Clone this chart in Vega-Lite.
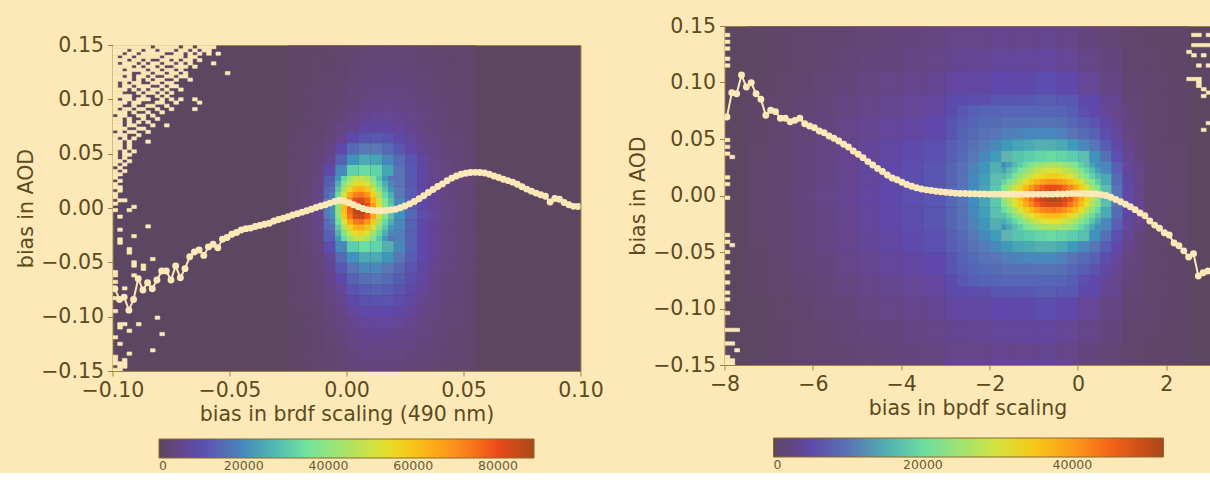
{
  "$schema": "https://vega.github.io/schema/vega-lite/v6.json",
  "background": "#fde9b7",
  "padding": {"left": 15.5, "top": 15, "right": 0, "bottom": 0},
  "spacing": 23,
  "datasets": {
    "left_cols": [{"col":1,"brdf_bias":-0.025},{"col":2,"brdf_bias":-0.02},{"col":3,"brdf_bias":-0.015},{"col":4,"brdf_bias":-0.01},{"col":5,"brdf_bias":-0.005},{"col":6,"brdf_bias":0.0},{"col":7,"brdf_bias":0.005},{"col":8,"brdf_bias":0.01},{"col":9,"brdf_bias":0.015},{"col":10,"brdf_bias":0.02},{"col":11,"brdf_bias":0.025},{"col":12,"brdf_bias":0.03},{"col":13,"brdf_bias":0.035},{"col":14,"brdf_bias":0.04},{"col":15,"brdf_bias":0.045},{"col":16,"brdf_bias":0.05}],
    "left_grid": [
      {"aod_bias":0.14,"counts_k":[0.9,1.0,1.1,1.2,1.4,1.9,2.4,2.7,2.7,2.7,2.4,2.1,1.8,1.5,1.3,1.2]},
      {"aod_bias":0.13,"counts_k":[0.9,1.0,1.2,1.3,1.6,2.2,2.7,2.9,3.0,2.9,2.7,2.3,1.9,1.7,1.4,1.2]},
      {"aod_bias":0.12,"counts_k":[0.9,1.1,1.2,1.5,1.8,2.5,2.9,3.3,3.4,3.3,3.0,2.6,2.1,1.8,1.5,1.3]},
      {"aod_bias":0.11,"counts_k":[0.9,1.1,1.3,1.7,2.0,2.8,3.4,3.7,3.9,3.8,3.4,2.9,2.4,2.0,1.7,1.4]},
      {"aod_bias":0.10,"counts_k":[1.0,1.2,1.5,1.9,2.3,3.2,3.9,4.3,4.5,4.4,3.9,3.3,2.7,2.2,1.9,1.5]},
      {"aod_bias":0.09,"counts_k":[1.0,1.2,1.7,2.1,2.7,3.7,4.6,5.1,5.3,5.1,4.4,3.7,3.0,2.5,2.0,1.7]},
      {"aod_bias":0.08,"counts_k":[1.1,1.4,1.9,2.4,3.1,4.4,5.8,6.4,6.6,6.2,5.3,4.2,3.3,2.7,2.2,1.8]},
      {"aod_bias":0.07,"counts_k":[1.2,1.5,2.0,2.7,4.0,5.8,7.5,8.0,8.0,7.1,5.8,4.4,3.5,2.8,2.3,1.9]},
      {"aod_bias":0.06,"counts_k":[1.2,1.7,2.3,3.3,5.5,8.9,11.1,11.5,10.6,8.9,6.9,5.3,4.1,3.2,2.6,2.0]},
      {"aod_bias":0.05,"counts_k":[1.3,1.8,2.7,4.4,8.9,15.0,17.7,17.7,15.0,11.5,8.4,6.2,4.6,3.5,2.8,2.2]},
      {"aod_bias":0.04,"counts_k":[1.4,1.9,3.1,5.8,13.3,21.2,24.8,23.9,19.5,15.0,10.6,7.5,5.1,3.8,3.0,2.3]},
      {"aod_bias":0.03,"counts_k":[1.5,2.1,3.5,8.9,19.5,31.9,33.6,31.9,23.9,16.8,11.5,8.0,5.3,4.0,3.1,2.4]},
      {"aod_bias":0.02,"counts_k":[1.6,2.3,4.0,12.4,31.9,48.7,48.7,39.8,26.6,16.8,11.5,8.0,5.5,4.2,3.2,2.5]},
      {"aod_bias":0.01,"counts_k":[1.8,2.5,4.4,14.2,42.5,70.8,70.8,48.7,31.0,17.7,12.4,8.4,5.8,4.4,3.4,2.7]},
      {"aod_bias":0.00,"counts_k":[1.8,2.7,5.3,17.7,51.3,81.4,81.4,55.8,33.6,19.5,13.3,8.9,6.2,4.4,3.5,2.7]},
      {"aod_bias":-0.01,"counts_k":[1.8,2.7,5.3,17.7,51.3,87.0,86.0,55.8,35.4,21.2,14.2,9.7,6.6,4.9,3.7,2.8]},
      {"aod_bias":-0.02,"counts_k":[1.8,2.7,4.9,15.0,39.8,58.4,58.4,44.3,31.9,19.5,13.3,8.9,6.2,4.6,3.5,2.7]},
      {"aod_bias":-0.03,"counts_k":[1.8,2.5,4.4,13.3,30.1,44.3,44.3,38.1,28.3,18.6,13.3,8.9,6.2,4.4,3.5,2.7]},
      {"aod_bias":-0.04,"counts_k":[1.8,2.4,4.0,9.7,19.5,31.0,33.6,31.9,25.7,19.5,13.3,8.9,6.2,4.4,3.5,2.7]},
      {"aod_bias":-0.05,"counts_k":[1.6,2.2,3.5,7.1,15.0,21.2,24.8,24.8,22.1,17.7,12.4,8.9,6.0,4.4,3.5,2.7]},
      {"aod_bias":-0.06,"counts_k":[1.5,2.0,3.1,6.2,11.5,16.8,19.5,19.5,17.7,14.2,10.6,8.0,5.6,4.2,3.3,2.5]},
      {"aod_bias":-0.07,"counts_k":[1.4,1.9,2.8,5.3,8.9,13.3,15.9,16.8,15.0,12.4,9.7,7.3,5.1,3.9,3.1,2.4]},
      {"aod_bias":-0.08,"counts_k":[1.3,1.8,2.7,4.4,6.6,10.6,12.4,13.3,12.4,10.6,8.9,6.6,4.9,3.7,2.9,2.3]},
      {"aod_bias":-0.09,"counts_k":[1.2,1.7,2.4,4.0,5.8,8.9,10.2,10.6,10.6,9.3,7.8,6.0,4.4,3.5,2.8,2.2]},
      {"aod_bias":-0.10,"counts_k":[1.2,1.6,2.2,3.5,4.9,7.1,8.4,8.9,8.9,8.0,6.6,5.3,4.0,3.2,2.7,2.1]},
      {"aod_bias":-0.11,"counts_k":[1.1,1.4,1.9,3.1,4.0,5.8,6.9,7.3,7.3,6.6,5.6,4.6,3.5,2.9,2.4,1.9]},
      {"aod_bias":-0.12,"counts_k":[1.1,1.3,1.8,2.7,3.5,4.9,5.8,6.2,6.2,5.7,4.9,4.1,3.3,2.7,2.2,1.8]},
      {"aod_bias":-0.13,"counts_k":[1.0,1.2,1.6,2.4,3.1,4.2,4.9,5.1,5.1,4.8,4.2,3.5,2.9,2.4,2.0,1.7]},
      {"aod_bias":-0.14,"counts_k":[1.0,1.2,1.5,2.1,2.7,3.5,4.2,4.4,4.4,4.1,3.6,3.1,2.7,2.2,1.9,1.6]},
      {"aod_bias":-0.15,"counts_k":[1.0,1.2,1.4,1.9,2.4,3.1,3.6,3.8,3.8,3.5,3.2,2.7,2.4,2.0,1.7,1.5]}
    ],
    "left_cols_core": [{"col":1,"brdf_bias":-0.0075},{"col":2,"brdf_bias":-0.005},{"col":3,"brdf_bias":-0.0025},{"col":4,"brdf_bias":0.0},{"col":5,"brdf_bias":0.0025},{"col":6,"brdf_bias":0.005},{"col":7,"brdf_bias":0.0075},{"col":8,"brdf_bias":0.01},{"col":9,"brdf_bias":0.0125},{"col":10,"brdf_bias":0.015},{"col":11,"brdf_bias":0.0175}],
    "left_grid_core": [
      {"aod_bias":0.025,"counts_k":[11.8,22.1,33.3,41.7,47.1,48.1,44.4,37.1,28.8,21.7,16.4]},
      {"aod_bias":0.02,"counts_k":[13.7,25.6,38.5,48.2,54.5,55.7,51.4,42.9,33.3,25.1,19.0]},
      {"aod_bias":0.015,"counts_k":[15.7,29.5,44.4,55.6,62.9,64.2,59.3,49.5,38.4,28.9,21.9]},
      {"aod_bias":0.01,"counts_k":[18.1,33.9,51.0,63.9,72.3,73.8,68.1,56.9,44.2,33.3,25.1]},
      {"aod_bias":0.005,"counts_k":[20.3,38.0,57.1,71.6,80.9,82.6,76.3,63.7,49.4,37.2,28.1]},
      {"aod_bias":0.0,"counts_k":[21.4,40.2,60.5,75.8,85.7,87.5,80.7,67.4,52.3,39.4,29.8]},
      {"aod_bias":-0.005,"counts_k":[21.5,40.4,60.7,76.1,86.0,88.0,81.1,67.7,52.5,39.6,29.9]},
      {"aod_bias":-0.01,"counts_k":[20.7,38.9,58.5,73.2,82.8,84.6,78.0,65.2,50.6,38.1,28.8]},
      {"aod_bias":-0.015,"counts_k":[18.4,34.4,51.8,64.9,73.4,74.9,69.1,57.7,44.8,33.7,25.5]},
      {"aod_bias":-0.02,"counts_k":[16.0,30.0,45.1,56.5,63.9,65.2,60.2,50.2,39.0,29.4,22.2]},
      {"aod_bias":-0.025,"counts_k":[13.8,25.9,39.0,48.8,55.2,56.4,52.0,43.5,33.7,25.4,19.2]},
      {"aod_bias":-0.03,"counts_k":[12.0,22.5,33.8,42.3,47.9,48.9,45.1,37.7,29.2,22.0,16.7]}
    ],
    "left_empty": [
      {"aod_bias":0.147,"brdf_list":[-0.1,-0.098,-0.096,-0.094,-0.092,-0.09,-0.088,-0.086,-0.082,-0.08,-0.078,-0.076,-0.074,-0.07,-0.068,-0.064,-0.062,-0.06,-0.058]},
      {"aod_bias":0.144,"brdf_list":[-0.1,-0.098,-0.096,-0.092,-0.09,-0.086,-0.084,-0.08,-0.078,-0.076,-0.072,-0.07,-0.066,-0.062,-0.06]},
      {"aod_bias":0.141,"brdf_list":[-0.1,-0.098,-0.094,-0.092,-0.088,-0.086,-0.084,-0.082,-0.08,-0.074,-0.072,-0.068,-0.064,-0.06,-0.056]},
      {"aod_bias":0.138,"brdf_list":[-0.1,-0.096,-0.094,-0.09,-0.088,-0.086,-0.084,-0.082,-0.078,-0.076,-0.074,-0.072,-0.068,-0.066]},
      {"aod_bias":0.135,"brdf_list":[-0.1,-0.098,-0.096,-0.092,-0.09,-0.086,-0.08,-0.078,-0.074,-0.07,-0.068,-0.064]},
      {"aod_bias":0.132,"brdf_list":[-0.1,-0.096,-0.094,-0.092,-0.088,-0.084,-0.082,-0.078,-0.076,-0.072,-0.068,-0.058]},
      {"aod_bias":0.129,"brdf_list":[-0.1,-0.098,-0.096,-0.094,-0.09,-0.086,-0.084,-0.08,-0.074,-0.072,-0.07,-0.066]},
      {"aod_bias":0.126,"brdf_list":[-0.1,-0.098,-0.094,-0.092,-0.09,-0.088,-0.084,-0.082,-0.078,-0.076,-0.072]},
      {"aod_bias":0.123,"brdf_list":[-0.1,-0.098,-0.096,-0.094,-0.088,-0.086,-0.082,-0.08,-0.076,-0.074,-0.07,-0.052]},
      {"aod_bias":0.12,"brdf_list":[-0.1,-0.098,-0.094,-0.09,-0.088,-0.084,-0.078,-0.076,-0.072,-0.07]},
      {"aod_bias":0.117,"brdf_list":[-0.1,-0.098,-0.096,-0.094,-0.09,-0.086,-0.082,-0.08,-0.074,-0.068]},
      {"aod_bias":0.114,"brdf_list":[-0.1,-0.096,-0.092,-0.09,-0.084,-0.082,-0.078,-0.076]},
      {"aod_bias":0.111,"brdf_list":[-0.1,-0.096,-0.094,-0.09,-0.088,-0.086,-0.08,-0.076,-0.074]},
      {"aod_bias":0.108,"brdf_list":[-0.1,-0.098,-0.096,-0.092,-0.088,-0.084,-0.082,-0.078,-0.072]},
      {"aod_bias":0.105,"brdf_list":[-0.1,-0.098,-0.09,-0.086,-0.084,-0.08,-0.076]},
      {"aod_bias":0.102,"brdf_list":[-0.1,-0.098,-0.096,-0.094,-0.088,-0.082,-0.078]},
      {"aod_bias":0.099,"brdf_list":[-0.1,-0.096,-0.094,-0.09,-0.088,-0.086,-0.08,-0.076,-0.072,-0.066]},
      {"aod_bias":0.096,"brdf_list":[-0.1,-0.098,-0.096,-0.092,-0.09,-0.082,-0.08,-0.074,-0.064]},
      {"aod_bias":0.093,"brdf_list":[-0.1,-0.098,-0.092,-0.086,-0.084,-0.078]},
      {"aod_bias":0.09,"brdf_list":[-0.1,-0.096,-0.094,-0.09,-0.088,-0.082,-0.076,-0.066]},
      {"aod_bias":0.087,"brdf_list":[-0.1,-0.098,-0.096,-0.092,-0.086,-0.08]},
      {"aod_bias":0.084,"brdf_list":[-0.098,-0.096,-0.09,-0.088,-0.084]},
      {"aod_bias":0.081,"brdf_list":[-0.1,-0.098,-0.094,-0.088,-0.082]},
      {"aod_bias":0.078,"brdf_list":[-0.1,-0.098,-0.094,-0.09,-0.086]},
      {"aod_bias":0.075,"brdf_list":[-0.1,-0.098,-0.094,-0.092,-0.084,-0.078]},
      {"aod_bias":0.072,"brdf_list":[-0.1,-0.098,-0.096,-0.09,-0.088]},
      {"aod_bias":0.069,"brdf_list":[-0.098,-0.094,-0.092,-0.086]},
      {"aod_bias":0.066,"brdf_list":[-0.1,-0.098,-0.096,-0.09]},
      {"aod_bias":0.063,"brdf_list":[-0.1,-0.096,-0.092]},
      {"aod_bias":0.06,"brdf_list":[-0.1,-0.098,-0.094,-0.086]},
      {"aod_bias":0.057,"brdf_list":[-0.1,-0.098,-0.094]},
      {"aod_bias":0.054,"brdf_list":[-0.1,-0.098,-0.094]},
      {"aod_bias":0.051,"brdf_list":[-0.1,-0.096,-0.092]},
      {"aod_bias":0.048,"brdf_list":[-0.1,-0.096,-0.094]},
      {"aod_bias":0.045,"brdf_list":[-0.1,-0.096]},
      {"aod_bias":0.042,"brdf_list":[-0.1,-0.098,-0.094]},
      {"aod_bias":0.039,"brdf_list":[-0.1,-0.096]},
      {"aod_bias":0.036,"brdf_list":[-0.098]},
      {"aod_bias":0.033,"brdf_list":[-0.1,-0.096]},
      {"aod_bias":0.03,"brdf_list":[-0.1,-0.098]},
      {"aod_bias":0.027,"brdf_list":[-0.1]},
      {"aod_bias":0.024,"brdf_list":[-0.098]},
      {"aod_bias":0.021,"brdf_list":[-0.1]},
      {"aod_bias":0.018,"brdf_list":[-0.1,-0.098]},
      {"aod_bias":0.015,"brdf_list":[-0.098]},
      {"aod_bias":0.012,"brdf_list":[-0.1]},
      {"aod_bias":0.009,"brdf_list":[-0.1]},
      {"aod_bias":0.006,"brdf_list":[-0.098,-0.096]},
      {"aod_bias":0.003,"brdf_list":[-0.1]},
      {"aod_bias":0.0,"brdf_list":[-0.092]},
      {"aod_bias":-0.003,"brdf_list":[-0.1,-0.094]},
      {"aod_bias":-0.009,"brdf_list":[-0.098]},
      {"aod_bias":-0.018,"brdf_list":[-0.086]},
      {"aod_bias":-0.021,"brdf_list":[-0.098]},
      {"aod_bias":-0.027,"brdf_list":[-0.092]},
      {"aod_bias":-0.03,"brdf_list":[-0.098]},
      {"aod_bias":-0.033,"brdf_list":[-0.098]},
      {"aod_bias":-0.039,"brdf_list":[-0.094]},
      {"aod_bias":-0.042,"brdf_list":[-0.094]},
      {"aod_bias":-0.048,"brdf_list":[-0.084]},
      {"aod_bias":-0.051,"brdf_list":[-0.092]},
      {"aod_bias":-0.054,"brdf_list":[-0.092,-0.088]},
      {"aod_bias":-0.057,"brdf_list":[-0.088]},
      {"aod_bias":-0.06,"brdf_list":[-0.1]},
      {"aod_bias":-0.063,"brdf_list":[-0.1,-0.092]},
      {"aod_bias":-0.069,"brdf_list":[-0.1]},
      {"aod_bias":-0.075,"brdf_list":[-0.096]},
      {"aod_bias":-0.084,"brdf_list":[-0.1]},
      {"aod_bias":-0.096,"brdf_list":[-0.1]},
      {"aod_bias":-0.102,"brdf_list":[-0.082]},
      {"aod_bias":-0.108,"brdf_list":[-0.098,-0.096,-0.09]},
      {"aod_bias":-0.111,"brdf_list":[-0.098]},
      {"aod_bias":-0.114,"brdf_list":[-0.094]},
      {"aod_bias":-0.117,"brdf_list":[-0.08]},
      {"aod_bias":-0.12,"brdf_list":[-0.1]},
      {"aod_bias":-0.126,"brdf_list":[-0.098]},
      {"aod_bias":-0.132,"brdf_list":[-0.084]},
      {"aod_bias":-0.135,"brdf_list":[-0.094]},
      {"aod_bias":-0.138,"brdf_list":[-0.1]},
      {"aod_bias":-0.141,"brdf_list":[-0.1,-0.096]},
      {"aod_bias":-0.144,"brdf_list":[-0.1,-0.098,-0.096]},
      {"aod_bias":-0.147,"brdf_list":[-0.098,-0.096]},
      {"aod_bias":-0.15,"brdf_list":[-0.1,-0.098]}
    ],
    "right_cols_coarse": [{"col":1,"bpdf_bias":-7.5},{"col":2,"bpdf_bias":-7.0},{"col":3,"bpdf_bias":-6.5},{"col":4,"bpdf_bias":-6.0},{"col":5,"bpdf_bias":-5.5},{"col":6,"bpdf_bias":-5.0},{"col":7,"bpdf_bias":-4.5},{"col":8,"bpdf_bias":-4.0},{"col":9,"bpdf_bias":-3.5},{"col":10,"bpdf_bias":-3.0},{"col":11,"bpdf_bias":-2.5},{"col":12,"bpdf_bias":-2.0},{"col":13,"bpdf_bias":-1.5},{"col":14,"bpdf_bias":-1.0},{"col":15,"bpdf_bias":-0.5},{"col":16,"bpdf_bias":0.0},{"col":17,"bpdf_bias":0.5},{"col":18,"bpdf_bias":1.0},{"col":19,"bpdf_bias":1.5},{"col":20,"bpdf_bias":2.0}],
    "right_grid_coarse": [
      {"aod_bias":0.13,"counts_k":[0.3,0.5,0.8,1.0,1.4,1.6,1.9,2.1,2.4,2.9,3.0,3.3,3.2,3.4,3.0,2.2,1.6,0.9,0.6,0.5]},
      {"aod_bias":0.11,"counts_k":[0.4,0.6,0.9,1.3,1.7,2.0,2.3,2.6,2.9,3.6,3.7,4.1,4.2,4.4,3.9,2.9,2.1,1.0,0.7,0.5]},
      {"aod_bias":0.09,"counts_k":[0.4,0.7,1.1,1.6,2.0,2.5,2.9,3.2,3.6,4.4,4.6,5.2,5.2,5.7,5.2,3.9,2.6,1.3,0.8,0.5]},
      {"aod_bias":0.07,"counts_k":[0.5,0.9,1.4,1.9,2.5,3.0,3.5,3.9,4.4,5.4,5.7,6.6,6.8,7.3,6.8,5.2,3.7,1.6,0.9,0.6]},
      {"aod_bias":0.05,"counts_k":[0.6,1.0,1.7,2.3,2.9,3.5,4.2,4.6,5.2,6.4,7.2,8.6,9.4,10.4,9.9,7.8,4.7,2.0,1.0,0.6]},
      {"aod_bias":0.03,"counts_k":[0.7,1.2,1.9,2.6,3.3,4.0,4.7,5.3,6.0,7.4,8.8,11.3,13.6,15.7,15.7,11.5,6.3,2.3,1.1,0.7]},
      {"aod_bias":0.01,"counts_k":[0.8,1.3,2.0,2.8,3.5,4.3,5.1,5.7,6.5,8.0,10.2,14.1,20.9,28.7,28.7,18.3,8.9,2.9,1.2,0.7]},
      {"aod_bias":-0.01,"counts_k":[0.8,1.3,2.1,2.9,3.7,4.4,5.2,6.0,6.8,8.4,11.0,15.7,26.1,41.8,41.8,23.5,10.4,3.1,1.3,0.8]},
      {"aod_bias":-0.03,"counts_k":[0.8,1.3,2.0,2.8,3.5,4.3,5.1,5.7,6.5,8.0,10.2,14.1,20.9,28.7,28.7,18.3,8.9,2.9,1.2,0.7]},
      {"aod_bias":-0.05,"counts_k":[0.7,1.2,1.9,2.6,3.3,4.0,4.7,5.3,6.0,7.4,8.8,11.3,13.6,15.7,15.7,11.5,6.3,2.3,1.1,0.7]},
      {"aod_bias":-0.07,"counts_k":[0.6,1.0,1.7,2.3,2.9,3.5,4.2,4.6,5.2,6.4,7.2,8.6,9.4,10.4,9.9,7.8,4.7,2.0,1.0,0.6]},
      {"aod_bias":-0.09,"counts_k":[0.5,0.9,1.4,1.9,2.5,3.0,3.5,3.9,4.4,5.4,5.7,6.6,6.8,7.3,6.8,5.2,3.7,1.6,0.9,0.6]},
      {"aod_bias":-0.11,"counts_k":[0.4,0.7,1.1,1.6,2.0,2.5,2.9,3.2,3.6,4.4,4.6,5.2,5.2,5.7,5.2,3.9,2.6,1.3,0.8,0.5]},
      {"aod_bias":-0.13,"counts_k":[0.4,0.6,0.9,1.3,1.7,2.0,2.3,2.6,2.9,3.6,3.7,4.1,4.2,4.4,3.9,2.9,2.1,1.0,0.7,0.5]},
      {"aod_bias":-0.15,"counts_k":[0.3,0.5,0.8,1.0,1.4,1.6,1.9,2.1,2.4,2.9,3.0,3.3,3.2,3.4,3.0,2.2,1.6,0.9,0.6,0.5]}
    ],
    "right_cols_fine": [{"col":1,"bpdf_bias":-2.75},{"col":2,"bpdf_bias":-2.5},{"col":3,"bpdf_bias":-2.25},{"col":4,"bpdf_bias":-2.0},{"col":5,"bpdf_bias":-1.75},{"col":6,"bpdf_bias":-1.5},{"col":7,"bpdf_bias":-1.25},{"col":8,"bpdf_bias":-1.0},{"col":9,"bpdf_bias":-0.75},{"col":10,"bpdf_bias":-0.5},{"col":11,"bpdf_bias":-0.25},{"col":12,"bpdf_bias":0.0},{"col":13,"bpdf_bias":0.25},{"col":14,"bpdf_bias":0.5},{"col":15,"bpdf_bias":0.75},{"col":16,"bpdf_bias":1.0}],
    "right_grid_fine": [
      {"aod_bias":0.07,"counts_k":[6.8,7.6,8.1,8.1,8.4,8.4,8.4,8.4,8.4,8.1,7.3,5.7,5.0,3.9,3.0,2.1]},
      {"aod_bias":0.06,"counts_k":[7.3,8.1,8.9,8.9,9.4,9.4,9.4,9.7,9.7,9.4,8.4,7.3,6.3,4.7,3.5,2.3]},
      {"aod_bias":0.05,"counts_k":[7.8,8.9,9.7,10.2,11.0,11.2,11.7,11.7,11.7,11.2,9.9,8.9,7.8,5.7,4.2,2.7]},
      {"aod_bias":0.04,"counts_k":[8.4,9.7,10.7,11.5,13.1,14.1,14.6,15.1,15.1,14.6,13.1,11.5,9.9,7.3,5.0,3.1]},
      {"aod_bias":0.03,"counts_k":[8.9,10.4,11.7,13.3,15.7,17.2,18.3,19.3,19.8,19.3,18.3,16.7,12.5,9.4,6.0,3.7]},
      {"aod_bias":0.02,"counts_k":[9.4,11.2,12.8,15.1,18.3,20.9,24.0,26.1,27.7,27.1,25.1,20.9,16.7,11.5,7.6,4.2]},
      {"aod_bias":0.01,"counts_k":[9.7,11.7,13.6,16.7,21.4,26.1,31.3,35.0,39.2,38.1,32.9,28.7,20.4,14.6,8.9,4.7]},
      {"aod_bias":0.0,"counts_k":[9.9,12.0,14.1,17.7,23.0,30.3,37.6,44.9,49.6,48.5,42.8,32.9,23.0,16.7,9.9,5.0]},
      {"aod_bias":-0.01,"counts_k":[9.9,12.0,14.1,17.7,23.0,30.3,37.6,46.0,51.5,50.5,43.5,32.9,23.0,16.7,9.9,5.0]},
      {"aod_bias":-0.02,"counts_k":[9.7,11.7,13.6,16.7,21.4,26.1,31.3,35.0,39.2,38.1,32.9,28.7,20.4,14.6,8.9,4.7]},
      {"aod_bias":-0.03,"counts_k":[9.4,11.2,12.8,15.1,18.3,20.9,24.0,26.1,27.7,27.1,25.1,20.9,16.7,11.5,7.6,4.2]},
      {"aod_bias":-0.04,"counts_k":[8.9,10.4,11.7,13.3,15.7,17.2,18.3,19.3,19.8,19.3,18.3,16.7,12.5,9.4,6.0,3.7]},
      {"aod_bias":-0.05,"counts_k":[8.4,9.7,10.7,11.5,13.1,14.1,14.6,15.1,15.1,14.6,13.1,11.5,9.9,7.3,5.0,3.1]},
      {"aod_bias":-0.06,"counts_k":[7.8,8.9,9.7,10.2,11.0,11.2,11.7,11.7,11.7,11.2,9.9,8.9,7.8,5.7,4.2,2.7]},
      {"aod_bias":-0.07,"counts_k":[7.3,8.1,8.9,8.9,9.4,9.4,9.4,9.7,9.7,9.4,8.4,7.3,6.3,4.7,3.5,2.3]},
      {"aod_bias":-0.08,"counts_k":[6.8,7.6,8.1,8.1,8.4,8.4,8.4,8.4,8.4,8.1,7.3,5.7,5.0,3.9,3.0,2.1]}
    ],
    "right_cols_core": [{"col":1,"bpdf_bias":-1.75},{"col":2,"bpdf_bias":-1.625},{"col":3,"bpdf_bias":-1.5},{"col":4,"bpdf_bias":-1.375},{"col":5,"bpdf_bias":-1.25},{"col":6,"bpdf_bias":-1.125},{"col":7,"bpdf_bias":-1.0},{"col":8,"bpdf_bias":-0.875},{"col":9,"bpdf_bias":-0.75},{"col":10,"bpdf_bias":-0.625},{"col":11,"bpdf_bias":-0.5},{"col":12,"bpdf_bias":-0.375},{"col":13,"bpdf_bias":-0.25},{"col":14,"bpdf_bias":-0.125},{"col":15,"bpdf_bias":0.0},{"col":16,"bpdf_bias":0.125},{"col":17,"bpdf_bias":0.25},{"col":18,"bpdf_bias":0.375}],
    "right_grid_core": [
      {"aod_bias":0.025,"counts_k":[11.9,13.8,15.9,17.9,20.1,22.0,23.7,24.8,25.6,25.8,25.4,24.5,23.0,21.1,18.8,16.5,14.0,11.7]},
      {"aod_bias":0.02,"counts_k":[14.0,16.2,18.6,21.1,23.6,25.9,27.8,29.2,30.0,30.3,29.8,28.7,27.0,24.8,22.1,19.3,16.5,13.7]},
      {"aod_bias":0.015,"counts_k":[15.9,18.5,21.2,24.0,26.9,29.4,31.6,33.2,34.2,34.5,33.9,32.7,30.8,28.2,25.1,22.0,18.7,15.6]},
      {"aod_bias":0.01,"counts_k":[18.7,21.8,24.9,28.2,31.6,34.7,37.2,39.1,40.2,40.6,39.9,38.5,36.2,33.3,29.6,25.9,22.1,18.4]},
      {"aod_bias":0.005,"counts_k":[21.8,25.3,29.1,32.9,36.8,40.4,43.3,45.5,46.9,47.2,46.5,44.8,42.2,38.7,34.5,30.1,25.7,21.4]},
      {"aod_bias":0.0,"counts_k":[23.7,27.5,31.6,35.7,40.0,43.8,47.1,49.4,50.9,51.3,50.5,48.7,45.8,42.1,37.5,32.7,27.9,23.3]},
      {"aod_bias":-0.005,"counts_k":[24.0,27.9,32.0,36.2,40.6,44.5,47.8,50.1,51.6,52.0,51.2,49.4,46.5,42.7,38.0,33.2,28.3,23.6]},
      {"aod_bias":-0.01,"counts_k":[22.7,26.4,30.3,34.2,38.4,42.1,45.2,47.4,48.8,49.2,48.5,46.7,43.9,40.4,35.9,31.4,26.8,22.3]},
      {"aod_bias":-0.015,"counts_k":[20.1,23.3,26.7,30.2,33.9,37.2,39.9,41.9,43.1,43.5,42.8,41.2,38.8,35.7,31.7,27.7,23.7,19.7]},
      {"aod_bias":-0.02,"counts_k":[16.9,19.6,22.5,25.4,28.5,31.2,33.5,35.2,36.3,36.5,36.0,34.7,32.6,30.0,26.7,23.3,19.9,16.6]},
      {"aod_bias":-0.025,"counts_k":[14.6,16.9,19.4,22.0,24.6,27.0,29.0,30.4,31.3,31.6,31.1,29.9,28.2,25.9,23.1,20.1,17.2,14.3]},
      {"aod_bias":-0.03,"counts_k":[12.3,14.3,16.4,18.5,20.8,22.7,24.4,25.7,26.4,26.6,26.2,25.2,23.8,21.8,19.4,17.0,14.5,12.1]}
    ],
    "right_empty": [
      {"aod_bias":0.141,"bpdf_list":[-8,2.56,2.67,2.89]},
      {"aod_bias":0.135,"bpdf_list":[-8]},
      {"aod_bias":0.132,"bpdf_list":[2.56,2.67,2.78,2.89]},
      {"aod_bias":0.129,"bpdf_list":[-8]},
      {"aod_bias":0.126,"bpdf_list":[2.45]},
      {"aod_bias":0.123,"bpdf_list":[2.56,2.78]},
      {"aod_bias":0.12,"bpdf_list":[-8]},
      {"aod_bias":0.114,"bpdf_list":[-8,2.67,2.89]},
      {"aod_bias":0.102,"bpdf_list":[2.45,2.56,2.67]},
      {"aod_bias":0.099,"bpdf_list":[2.67]},
      {"aod_bias":0.096,"bpdf_list":[2.67]},
      {"aod_bias":0.093,"bpdf_list":[2.78]},
      {"aod_bias":0.09,"bpdf_list":[2.89]},
      {"aod_bias":0.087,"bpdf_list":[2.78]},
      {"aod_bias":0.063,"bpdf_list":[2.89]},
      {"aod_bias":0.057,"bpdf_list":[2.78]},
      {"aod_bias":0.048,"bpdf_list":[-8]},
      {"aod_bias":0.042,"bpdf_list":[-8]},
      {"aod_bias":0.036,"bpdf_list":[-8]},
      {"aod_bias":0.033,"bpdf_list":[-7.89]},
      {"aod_bias":0.015,"bpdf_list":[-8]},
      {"aod_bias":0.009,"bpdf_list":[-8]},
      {"aod_bias":-0.003,"bpdf_list":[-8]},
      {"aod_bias":-0.036,"bpdf_list":[-8]},
      {"aod_bias":-0.042,"bpdf_list":[-8]},
      {"aod_bias":-0.045,"bpdf_list":[-7.89]},
      {"aod_bias":-0.051,"bpdf_list":[-8]},
      {"aod_bias":-0.06,"bpdf_list":[-8]},
      {"aod_bias":-0.069,"bpdf_list":[-8]},
      {"aod_bias":-0.078,"bpdf_list":[-8]},
      {"aod_bias":-0.087,"bpdf_list":[-8]},
      {"aod_bias":-0.093,"bpdf_list":[-8]},
      {"aod_bias":-0.105,"bpdf_list":[-8]},
      {"aod_bias":-0.12,"bpdf_list":[-8,-7.89,-7.78]},
      {"aod_bias":-0.132,"bpdf_list":[-8,-7.89]},
      {"aod_bias":-0.138,"bpdf_list":[-7.78]},
      {"aod_bias":-0.144,"bpdf_list":[-8]},
      {"aod_bias":-0.147,"bpdf_list":[-8,-7.89]},
      {"aod_bias":-0.15,"bpdf_list":[-8,-7.89]}
    ],
    "left_mean": [
      {"brdf_bias":-0.099,"aod_bias":-0.0743},{"brdf_bias":-0.097,"aod_bias":-0.0842},{"brdf_bias":-0.095,"aod_bias":-0.082},{"brdf_bias":-0.093,"aod_bias":-0.094},{"brdf_bias":-0.091,"aod_bias":-0.0842},
      {"brdf_bias":-0.089,"aod_bias":-0.0651},{"brdf_bias":-0.087,"aod_bias":-0.0755},{"brdf_bias":-0.085,"aod_bias":-0.0688},{"brdf_bias":-0.083,"aod_bias":-0.0743},{"brdf_bias":-0.081,"aod_bias":-0.0663},
      {"brdf_bias":-0.079,"aod_bias":-0.058},{"brdf_bias":-0.077,"aod_bias":-0.058},{"brdf_bias":-0.075,"aod_bias":-0.0663},{"brdf_bias":-0.073,"aod_bias":-0.0534},{"brdf_bias":-0.071,"aod_bias":-0.0642},
      {"brdf_bias":-0.069,"aod_bias":-0.0558},{"brdf_bias":-0.067,"aod_bias":-0.0448},{"brdf_bias":-0.065,"aod_bias":-0.0405},{"brdf_bias":-0.063,"aod_bias":-0.0386},{"brdf_bias":-0.061,"aod_bias":-0.0436},
      {"brdf_bias":-0.059,"aod_bias":-0.0358},{"brdf_bias":-0.057,"aod_bias":-0.0334},{"brdf_bias":-0.055,"aod_bias":-0.0365},{"brdf_bias":-0.053,"aod_bias":-0.0288},{"brdf_bias":-0.051,"aod_bias":-0.0272},
      {"brdf_bias":-0.049,"aod_bias":-0.0242},{"brdf_bias":-0.047,"aod_bias":-0.0226},{"brdf_bias":-0.045,"aod_bias":-0.0202},{"brdf_bias":-0.043,"aod_bias":-0.019},{"brdf_bias":-0.041,"aod_bias":-0.0185},
      {"brdf_bias":-0.039,"aod_bias":-0.017},{"brdf_bias":-0.037,"aod_bias":-0.016},{"brdf_bias":-0.035,"aod_bias":-0.015},{"brdf_bias":-0.033,"aod_bias":-0.014},{"brdf_bias":-0.031,"aod_bias":-0.012},
      {"brdf_bias":-0.029,"aod_bias":-0.0105},{"brdf_bias":-0.027,"aod_bias":-0.0095},{"brdf_bias":-0.025,"aod_bias":-0.008},{"brdf_bias":-0.023,"aod_bias":-0.0065},{"brdf_bias":-0.021,"aod_bias":-0.0052},
      {"brdf_bias":-0.019,"aod_bias":-0.0038},{"brdf_bias":-0.017,"aod_bias":-0.0025},{"brdf_bias":-0.015,"aod_bias":-0.0012},{"brdf_bias":-0.013,"aod_bias":0.0005},{"brdf_bias":-0.011,"aod_bias":0.0018},
      {"brdf_bias":-0.009,"aod_bias":0.003},{"brdf_bias":-0.007,"aod_bias":0.0045},{"brdf_bias":-0.005,"aod_bias":0.006},{"brdf_bias":-0.003,"aod_bias":0.0072},{"brdf_bias":-0.001,"aod_bias":0.0065},
      {"brdf_bias":0.001,"aod_bias":0.0048},{"brdf_bias":0.003,"aod_bias":0.003},{"brdf_bias":0.005,"aod_bias":0.0012},{"brdf_bias":0.007,"aod_bias":-0.0005},{"brdf_bias":0.009,"aod_bias":-0.0015},
      {"brdf_bias":0.011,"aod_bias":-0.0022},{"brdf_bias":0.013,"aod_bias":-0.0026},{"brdf_bias":0.015,"aod_bias":-0.0026},{"brdf_bias":0.017,"aod_bias":-0.0022},{"brdf_bias":0.019,"aod_bias":-0.0017},
      {"brdf_bias":0.021,"aod_bias":-0.0012},{"brdf_bias":0.023,"aod_bias":0.0003},{"brdf_bias":0.025,"aod_bias":0.0018},{"brdf_bias":0.027,"aod_bias":0.0038},{"brdf_bias":0.029,"aod_bias":0.006},
      {"brdf_bias":0.031,"aod_bias":0.0085},{"brdf_bias":0.033,"aod_bias":0.0112},{"brdf_bias":0.035,"aod_bias":0.0142},{"brdf_bias":0.037,"aod_bias":0.017},{"brdf_bias":0.039,"aod_bias":0.0198},
      {"brdf_bias":0.041,"aod_bias":0.0222},{"brdf_bias":0.043,"aod_bias":0.025},{"brdf_bias":0.045,"aod_bias":0.0275},{"brdf_bias":0.047,"aod_bias":0.0295},{"brdf_bias":0.049,"aod_bias":0.031},
      {"brdf_bias":0.051,"aod_bias":0.032},{"brdf_bias":0.053,"aod_bias":0.0326},{"brdf_bias":0.055,"aod_bias":0.0328},{"brdf_bias":0.057,"aod_bias":0.0326},{"brdf_bias":0.059,"aod_bias":0.0322},
      {"brdf_bias":0.061,"aod_bias":0.031},{"brdf_bias":0.063,"aod_bias":0.0295},{"brdf_bias":0.065,"aod_bias":0.028},{"brdf_bias":0.067,"aod_bias":0.0265},{"brdf_bias":0.069,"aod_bias":0.0252},
      {"brdf_bias":0.071,"aod_bias":0.0238},{"brdf_bias":0.073,"aod_bias":0.0218},{"brdf_bias":0.075,"aod_bias":0.0195},{"brdf_bias":0.077,"aod_bias":0.0174},{"brdf_bias":0.079,"aod_bias":0.0155},
      {"brdf_bias":0.081,"aod_bias":0.0137},{"brdf_bias":0.083,"aod_bias":0.0122},{"brdf_bias":0.085,"aod_bias":0.0108},{"brdf_bias":0.087,"aod_bias":0.0055},{"brdf_bias":0.089,"aod_bias":0.0088},
      {"brdf_bias":0.091,"aod_bias":0.008},{"brdf_bias":0.093,"aod_bias":0.005},{"brdf_bias":0.095,"aod_bias":0.003},{"brdf_bias":0.097,"aod_bias":0.0015},{"brdf_bias":0.099,"aod_bias":0.0014}
    ],
    "right_mean": [
      {"bpdf_bias":-7.945,"aod_bias":0.0695},{"bpdf_bias":-7.835,"aod_bias":0.091},{"bpdf_bias":-7.725,"aod_bias":0.09},{"bpdf_bias":-7.615,"aod_bias":0.1066},{"bpdf_bias":-7.505,"aod_bias":0.096},
      {"bpdf_bias":-7.395,"aod_bias":0.0998},{"bpdf_bias":-7.285,"aod_bias":0.09},{"bpdf_bias":-7.175,"aod_bias":0.0851},{"bpdf_bias":-7.065,"aod_bias":0.071},{"bpdf_bias":-6.955,"aod_bias":0.0754},
      {"bpdf_bias":-6.845,"aod_bias":0.0742},{"bpdf_bias":-6.735,"aod_bias":0.0683},{"bpdf_bias":-6.625,"aod_bias":0.0683},{"bpdf_bias":-6.515,"aod_bias":0.0653},{"bpdf_bias":-6.405,"aod_bias":0.0665},
      {"bpdf_bias":-6.295,"aod_bias":0.0683},{"bpdf_bias":-6.185,"aod_bias":0.0635},{"bpdf_bias":-6.075,"aod_bias":0.0615},{"bpdf_bias":-5.965,"aod_bias":0.06},{"bpdf_bias":-5.855,"aod_bias":0.0571},
      {"bpdf_bias":-5.745,"aod_bias":0.0556},{"bpdf_bias":-5.635,"aod_bias":0.0527},{"bpdf_bias":-5.525,"aod_bias":0.0506},{"bpdf_bias":-5.415,"aod_bias":0.0482},{"bpdf_bias":-5.305,"aod_bias":0.0453},
      {"bpdf_bias":-5.195,"aod_bias":0.0429},{"bpdf_bias":-5.085,"aod_bias":0.0394},{"bpdf_bias":-4.975,"aod_bias":0.0365},{"bpdf_bias":-4.865,"aod_bias":0.0335},{"bpdf_bias":-4.755,"aod_bias":0.03},
      {"bpdf_bias":-4.645,"aod_bias":0.027},{"bpdf_bias":-4.535,"aod_bias":0.024},{"bpdf_bias":-4.425,"aod_bias":0.0212},{"bpdf_bias":-4.315,"aod_bias":0.0182},{"bpdf_bias":-4.205,"aod_bias":0.0155},
      {"bpdf_bias":-4.095,"aod_bias":0.014},{"bpdf_bias":-3.985,"aod_bias":0.0118},{"bpdf_bias":-3.875,"aod_bias":0.0097},{"bpdf_bias":-3.765,"aod_bias":0.0082},{"bpdf_bias":-3.655,"aod_bias":0.0068},
      {"bpdf_bias":-3.545,"aod_bias":0.0058},{"bpdf_bias":-3.435,"aod_bias":0.005},{"bpdf_bias":-3.325,"aod_bias":0.0044},{"bpdf_bias":-3.215,"aod_bias":0.0038},{"bpdf_bias":-3.105,"aod_bias":0.0033},
      {"bpdf_bias":-2.995,"aod_bias":0.0028},{"bpdf_bias":-2.885,"aod_bias":0.0024},{"bpdf_bias":-2.775,"aod_bias":0.0021},{"bpdf_bias":-2.665,"aod_bias":0.0018},{"bpdf_bias":-2.555,"aod_bias":0.0017},
      {"bpdf_bias":-2.445,"aod_bias":0.0016},{"bpdf_bias":-2.335,"aod_bias":0.0015},{"bpdf_bias":-2.225,"aod_bias":0.0014},{"bpdf_bias":-2.115,"aod_bias":0.0013},{"bpdf_bias":-2.005,"aod_bias":0.0012},
      {"bpdf_bias":-1.895,"aod_bias":0.0012},{"bpdf_bias":-1.785,"aod_bias":0.0012},{"bpdf_bias":-1.675,"aod_bias":0.0011},{"bpdf_bias":-1.565,"aod_bias":0.0011},{"bpdf_bias":-1.455,"aod_bias":0.0011},
      {"bpdf_bias":-1.345,"aod_bias":0.0011},{"bpdf_bias":-1.235,"aod_bias":0.0011},{"bpdf_bias":-1.125,"aod_bias":0.0011},{"bpdf_bias":-1.015,"aod_bias":0.0011},{"bpdf_bias":-0.905,"aod_bias":0.0012},
      {"bpdf_bias":-0.795,"aod_bias":0.0012},{"bpdf_bias":-0.685,"aod_bias":0.0012},{"bpdf_bias":-0.575,"aod_bias":0.0012},{"bpdf_bias":-0.465,"aod_bias":0.0013},{"bpdf_bias":-0.355,"aod_bias":0.0014},
      {"bpdf_bias":-0.245,"aod_bias":0.0016},{"bpdf_bias":-0.135,"aod_bias":0.0017},{"bpdf_bias":-0.025,"aod_bias":0.0017},{"bpdf_bias":0.085,"aod_bias":0.0017},{"bpdf_bias":0.195,"aod_bias":0.0016},
      {"bpdf_bias":0.305,"aod_bias":0.0015},{"bpdf_bias":0.415,"aod_bias":0.0013},{"bpdf_bias":0.525,"aod_bias":0.0008},{"bpdf_bias":0.635,"aod_bias":0.0},{"bpdf_bias":0.745,"aod_bias":-0.0015},
      {"bpdf_bias":0.855,"aod_bias":-0.0035},{"bpdf_bias":0.965,"aod_bias":-0.0055},{"bpdf_bias":1.075,"aod_bias":-0.0078},{"bpdf_bias":1.185,"aod_bias":-0.01},{"bpdf_bias":1.295,"aod_bias":-0.0125},
      {"bpdf_bias":1.405,"aod_bias":-0.0155},{"bpdf_bias":1.515,"aod_bias":-0.018},{"bpdf_bias":1.625,"aod_bias":-0.0225},{"bpdf_bias":1.735,"aod_bias":-0.0262},{"bpdf_bias":1.845,"aod_bias":-0.029},
      {"bpdf_bias":1.955,"aod_bias":-0.033},{"bpdf_bias":2.065,"aod_bias":-0.035},{"bpdf_bias":2.175,"aod_bias":-0.042},{"bpdf_bias":2.285,"aod_bias":-0.0445},{"bpdf_bias":2.395,"aod_bias":-0.049},
      {"bpdf_bias":2.505,"aod_bias":-0.0545},{"bpdf_bias":2.615,"aod_bias":-0.0515},{"bpdf_bias":2.725,"aod_bias":-0.0712},{"bpdf_bias":2.835,"aod_bias":-0.0683},{"bpdf_bias":2.945,"aod_bias":-0.0668}
    ]
  },
  "hconcat": [
    {
      "spacing": 0,
      "vconcat": [
        {
          "width": 468,
          "height": 8,
          "view": {"fill": null, "stroke": null},
          "data": {"values": []},
          "mark": {"type": "rect", "opacity": 0},
          "encoding": {}
        },
        {
          "width": 468,
          "height": 326,
          "layer": [
            {
              "data": {"name": "left_grid"},
              "transform": [
                {"flatten": ["counts_k"], "as": ["count_k"]},
                {"window": [{"op": "row_number", "as": "col"}], "groupby": ["aod_bias"]},
                {"lookup": "col", "from": {"data": {"name": "left_cols"}, "key": "col", "fields": ["brdf_bias"]}}
              ],
              "mark": {"type": "rect", "clip": true},
              "encoding": {
                "x": {"field": "brdf_bias", "type": "quantitative", "bin": {"binned": true, "step": 0.005},
                      "scale": {"domain": [-0.1, 0.1], "nice": false, "zero": false},
                      "axis": {"title": "bias in brdf scaling (490 nm)", "values": [-0.1, -0.05, 0, 0.05, 0.1], "format": ".2f"}},
                "y": {"field": "aod_bias", "type": "quantitative", "bin": {"binned": true, "step": 0.01},
                      "scale": {"domain": [-0.15, 0.15], "nice": false, "zero": false},
                      "axis": {"title": "bias in AOD", "values": [-0.15, -0.1, -0.05, 0, 0.05, 0.1, 0.15], "format": ".2f"}},
                "color": {"field": "count_k", "type": "quantitative",
                          "scale": {"domain": [0, 88.5], "range": ["#5d4662","#5e48ac","#5a78b6","#5fb4ad","#76e59a","#abe166","#e6e22c","#fbbb18","#fb8a20","#ef4a1a","#a9481a"]},
                          "legend": {"orient": "none", "legendX": 46.5, "legendY": 413, "direction": "horizontal", "title": null,
                                     "gradientLength": 375, "gradientThickness": 19, "values": [0, 20, 40, 60, 80],
                                     "labelExpr": "datum.value * 1000", "labelAlign": "center", "labelOverlap": false}}
              }
            },
            {
              "data": {"name": "left_grid_core"},
              "transform": [
                {"flatten": ["counts_k"], "as": ["count_k"]},
                {"window": [{"op": "row_number", "as": "col"}], "groupby": ["aod_bias"]},
                {"lookup": "col", "from": {"data": {"name": "left_cols_core"}, "key": "col", "fields": ["brdf_bias"]}}
              ],
              "mark": {"type": "rect", "clip": true},
              "encoding": {
                "x": {"field": "brdf_bias", "type": "quantitative", "bin": {"binned": true, "step": 0.0025},
                      "axis": {"title": "bias in brdf scaling (490 nm)", "values": [-0.1, -0.05, 0, 0.05, 0.1], "format": ".2f"}},
                "y": {"field": "aod_bias", "type": "quantitative", "bin": {"binned": true, "step": 0.005},
                      "axis": {"title": "bias in AOD", "values": [-0.15, -0.1, -0.05, 0, 0.05, 0.1, 0.15], "format": ".2f"}},
                "color": {"field": "count_k", "type": "quantitative"}
              }
            },
            {
              "data": {"name": "left_empty"},
              "transform": [{"flatten": ["brdf_list"], "as": ["brdf_bias"]}],
              "mark": {"type": "rect", "color": "#fde9b7", "stroke": "#fde9b7", "strokeWidth": 0.6, "clip": true},
              "encoding": {
                "x": {"field": "brdf_bias", "type": "quantitative", "bin": {"binned": true, "step": 0.002},
                      "axis": {"title": "bias in brdf scaling (490 nm)", "values": [-0.1, -0.05, 0, 0.05, 0.1], "format": ".2f"}},
                "y": {"field": "aod_bias", "type": "quantitative", "bin": {"binned": true, "step": 0.003},
                      "axis": {"title": "bias in AOD", "values": [-0.15, -0.1, -0.05, 0, 0.05, 0.1, 0.15], "format": ".2f"}}
              }
            },
            {
              "data": {"name": "left_mean"},
              "mark": {"type": "line", "color": "#fde9b7", "strokeWidth": 2, "clip": true},
              "encoding": {
                "x": {"field": "brdf_bias", "type": "quantitative", "axis": {"title": "bias in brdf scaling (490 nm)", "values": [-0.1, -0.05, 0, 0.05, 0.1], "format": ".2f"}},
                "y": {"field": "aod_bias", "type": "quantitative", "axis": {"title": "bias in AOD", "values": [-0.15, -0.1, -0.05, 0, 0.05, 0.1, 0.15], "format": ".2f"}}
              }
            },
            {
              "data": {"name": "left_mean"},
              "mark": {"type": "point", "filled": true, "color": "#fde9b7", "opacity": 1, "size": 48, "clip": true},
              "encoding": {
                "x": {"field": "brdf_bias", "type": "quantitative", "axis": {"title": "bias in brdf scaling (490 nm)", "values": [-0.1, -0.05, 0, 0.05, 0.1], "format": ".2f"}},
                "y": {"field": "aod_bias", "type": "quantitative", "axis": {"title": "bias in AOD", "values": [-0.15, -0.1, -0.05, 0, 0.05, 0.1, 0.15], "format": ".2f"}}
              }
            }
          ]
        }
      ]
    },
    {
      "width": 486,
      "height": 339,
      "layer": [
        {
          "data": {"name": "right_grid_coarse"},
          "transform": [
            {"flatten": ["counts_k"], "as": ["count_k"]},
            {"window": [{"op": "row_number", "as": "col"}], "groupby": ["aod_bias"]},
            {"lookup": "col", "from": {"data": {"name": "right_cols_coarse"}, "key": "col", "fields": ["bpdf_bias"]}}
          ],
          "mark": {"type": "rect", "clip": true},
          "encoding": {
            "x": {"field": "bpdf_bias", "type": "quantitative", "bin": {"binned": true, "step": 0.5},
                  "scale": {"domain": [-8, 3], "nice": false, "zero": false},
                  "axis": {"title": "bias in bpdf scaling", "values": [-8, -6, -4, -2, 0, 2], "format": "d"}},
            "y": {"field": "aod_bias", "type": "quantitative", "bin": {"binned": true, "step": 0.02},
                  "scale": {"domain": [-0.15, 0.15], "nice": false, "zero": false},
                  "axis": {"title": "bias in AOD", "values": [-0.15, -0.1, -0.05, 0, 0.05, 0.1, 0.15], "format": ".2f"}},
            "color": {"field": "count_k", "type": "quantitative",
                      "scale": {"domain": [0, 52.2], "range": ["#5d4662","#5e48ac","#5a78b6","#5fb4ad","#76e59a","#abe166","#e6e22c","#fbbb18","#fb8a20","#ef4a1a","#a9481a"]},
                      "legend": {"orient": "none", "legendX": 49, "legendY": 412, "direction": "horizontal", "title": null,
                                 "gradientLength": 390, "gradientThickness": 19, "values": [0, 20, 40],
                                 "labelExpr": "datum.value * 1000", "labelAlign": "center", "labelOverlap": false}}
          }
        },
        {
          "data": {"name": "right_grid_fine"},
          "transform": [
            {"flatten": ["counts_k"], "as": ["count_k"]},
            {"window": [{"op": "row_number", "as": "col"}], "groupby": ["aod_bias"]},
            {"lookup": "col", "from": {"data": {"name": "right_cols_fine"}, "key": "col", "fields": ["bpdf_bias"]}}
          ],
          "mark": {"type": "rect", "clip": true},
          "encoding": {
            "x": {"field": "bpdf_bias", "type": "quantitative", "bin": {"binned": true, "step": 0.25},
                  "axis": {"title": "bias in bpdf scaling", "values": [-8, -6, -4, -2, 0, 2], "format": "d"}},
            "y": {"field": "aod_bias", "type": "quantitative", "bin": {"binned": true, "step": 0.01},
                  "axis": {"title": "bias in AOD", "values": [-0.15, -0.1, -0.05, 0, 0.05, 0.1, 0.15], "format": ".2f"}},
            "color": {"field": "count_k", "type": "quantitative"}
          }
        },
        {
          "data": {"name": "right_grid_core"},
          "transform": [
            {"flatten": ["counts_k"], "as": ["count_k"]},
            {"window": [{"op": "row_number", "as": "col"}], "groupby": ["aod_bias"]},
            {"lookup": "col", "from": {"data": {"name": "right_cols_core"}, "key": "col", "fields": ["bpdf_bias"]}}
          ],
          "mark": {"type": "rect", "clip": true},
          "encoding": {
            "x": {"field": "bpdf_bias", "type": "quantitative", "bin": {"binned": true, "step": 0.125},
                  "axis": {"title": "bias in bpdf scaling", "values": [-8, -6, -4, -2, 0, 2], "format": "d"}},
            "y": {"field": "aod_bias", "type": "quantitative", "bin": {"binned": true, "step": 0.005},
                  "axis": {"title": "bias in AOD", "values": [-0.15, -0.1, -0.05, 0, 0.05, 0.1, 0.15], "format": ".2f"}},
            "color": {"field": "count_k", "type": "quantitative"}
          }
        },
        {
          "data": {"name": "right_empty"},
          "transform": [{"flatten": ["bpdf_list"], "as": ["bpdf_bias"]}],
          "mark": {"type": "rect", "color": "#fde9b7", "stroke": "#fde9b7", "strokeWidth": 0.6, "clip": true},
          "encoding": {
            "x": {"field": "bpdf_bias", "type": "quantitative", "bin": {"binned": true, "step": 0.11},
                  "axis": {"title": "bias in bpdf scaling", "values": [-8, -6, -4, -2, 0, 2], "format": "d"}},
            "y": {"field": "aod_bias", "type": "quantitative", "bin": {"binned": true, "step": 0.003},
                  "axis": {"title": "bias in AOD", "values": [-0.15, -0.1, -0.05, 0, 0.05, 0.1, 0.15], "format": ".2f"}}
          }
        },
        {
          "data": {"name": "right_mean"},
          "mark": {"type": "line", "color": "#fde9b7", "strokeWidth": 2, "clip": true},
          "encoding": {
            "x": {"field": "bpdf_bias", "type": "quantitative", "axis": {"title": "bias in bpdf scaling", "values": [-8, -6, -4, -2, 0, 2], "format": "d"}},
            "y": {"field": "aod_bias", "type": "quantitative", "axis": {"title": "bias in AOD", "values": [-0.15, -0.1, -0.05, 0, 0.05, 0.1, 0.15], "format": ".2f"}}
          }
        },
        {
          "data": {"name": "right_mean"},
          "mark": {"type": "point", "filled": true, "color": "#fde9b7", "opacity": 1, "size": 48, "clip": true},
          "encoding": {
            "x": {"field": "bpdf_bias", "type": "quantitative", "axis": {"title": "bias in bpdf scaling", "values": [-8, -6, -4, -2, 0, 2], "format": "d"}},
            "y": {"field": "aod_bias", "type": "quantitative", "axis": {"title": "bias in AOD", "values": [-0.15, -0.1, -0.05, 0, 0.05, 0.1, 0.15], "format": ".2f"}}
          }
        }
      ]
    }
  ],
  "resolve": {"scale": {"color": "independent"}, "legend": {"color": "independent"}},
  "config": {
    "font": "DejaVu Sans",
    "view": {"fill": "#5d4662", "stroke": "#9b8545", "strokeWidth": 1},
    "axis": {"labelFont": "DejaVu Sans", "titleFont": "DejaVu Sans", "labelFontSize": 20.5, "titleFontSize": 20.5,
             "labelColor": "#5c4a20", "titleColor": "#5c4a20", "titleFontWeight": "normal", "tickColor": "#9b8545",
             "tickSize": 5, "domain": false, "grid": false, "labelPadding": 4, "titlePadding": 4, "labelFlush": false, "labelOverlap": false},
    "legend": {"labelFont": "DejaVu Sans", "labelFontSize": 12.5, "labelColor": "#6b5a30", "gradientStrokeColor": "#8a6a28",
               "gradientStrokeWidth": 1, "labelOffset": 11}
  }
}
